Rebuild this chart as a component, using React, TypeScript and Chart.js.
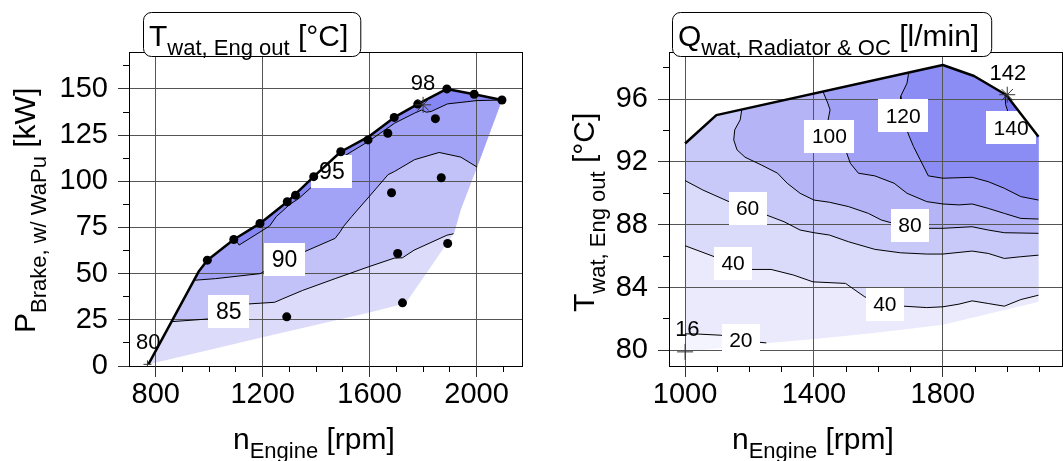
import React, { useEffect, useRef } from 'react';
import { Chart, registerables } from 'chart.js';

Chart.register(...registerables);

type Pt = [number, number];

const FONT = '"Liberation Sans", Arial, Helvetica, sans-serif';
const GRID = '#555555';
const CLEAR = 'rgba(0,0,0,0)';

// ================= Left panel: T_wat, Eng out [°C] =================
const L_X_RANGE = [700, 2170];
const L_Y_RANGE = [0, 170];
const L_X_TICKS = [800, 1200, 1600, 2000];
const L_Y_TICKS = [0, 25, 50, 75, 100, 125, 150];

// full-load curve (upper edge of measured map)
const L_TOP: Pt[] = [[773, 1], [960, 51], [993, 57.3], [1092, 68.5], [1190, 77.2], [1292, 88.9], [1391, 102.5], [1492, 116], [1600, 124.5], [1692, 134.6], [1780, 141.8], [1889, 150], [1991, 147.1], [2095, 144]];
const L_RIGHT: Pt[] = [[2095, 144], [2002, 107.7], [1941, 84.7], [1916, 72], [1735, 34]];
const L_BOTTOM: Pt[] = [[1735, 34], [1600, 29], [1200, 15.5], [790, 1.5], [773, 1]];

const L_C85: Pt[] = [[859, 24], [1000, 25.5], [1147, 33.6], [1245, 34.5], [1275, 36.4], [1349, 40.9], [1471, 47.3], [1594, 53.6], [1692, 58.4], [1723, 58.6], [1766, 62.7], [1889, 70.8], [1914, 71.6]];
const L_C90: Pt[] = [[943, 46.4], [1024, 47.3], [1190, 50], [1355, 61.8], [1471, 69.1], [1490, 72.7], [1502, 75.5], [1533, 80.9], [1600, 92], [1669, 103.6], [1694, 105.4], [1768, 111.7], [1860, 115.6], [1941, 113.1], [2002, 107.7]];
const L_C95: Pt[] = [[1096, 68.8], [1112, 65.5], [1226, 75.8], [1251, 80.9], [1300, 87.3], [1337, 90.9], [1386, 97.3], [1492, 112.5], [1600, 122], [1694, 131.5], [1768, 136.9], [1795, 138.6], [1812, 137.4], [1830, 137.8], [1891, 141.9], [2002, 143.7], [2095, 144]];

const L_POINTS: Pt[] = [[993, 57.3], [1092, 68.5], [1190, 77.2], [1292, 88.9], [1323, 92.5], [1391, 102.5], [1492, 116], [1594, 122.4], [1668, 126], [1692, 134.6], [1780, 141.8], [1846, 133.9], [1889, 150], [1991, 147.1], [2095, 144], [1868, 101.9], [1682, 93.8], [1705, 60.9], [1892, 66.3], [1723, 34.2], [1290, 26.6]];
const L_MAX: Pt[] = [[1800, 141.4]];
const L_MIN: Pt[] = [[769, 0.9]];

const L_LABEL_TEXT = ['85', '90', '95', '80', '98'];
const L_LABEL_AT: Pt[] = [[1073, 29.5], [1282, 57.8], [1459, 105.3], [772, 13.2], [1800, 153.2]];
const L_LABEL_BOXED = [true, true, true, false, false];

const L_COLORS = ['#dcdcfa', '#c2c2f8', '#a2a2f6', '#8686f4'];

// ================= Right panel: Q_wat, Radiator & OC [l/min] =================
const R_X_RANGE = [950, 2170];
const R_Y_RANGE = [79, 99];
const R_X_TICKS = [1000, 1400, 1800];
const R_Y_TICKS = [80, 84, 88, 92, 96];

const R_TOP: Pt[] = [[1000, 93.17], [1097, 94.98], [1800, 98.17], [1897, 97.47], [1997, 96.26], [2097, 93.6]];
const R_RIGHT: Pt[] = [[2097, 93.6], [2097, 83.1]];
const R_BOTTOM: Pt[] = [[2097, 83.1], [1800, 81.62], [1590, 81.12], [1400, 80.72], [1250, 80.45], [1000, 79.9]];

const R_C20: Pt[] = [[1000, 81.05], [1035, 81.04], [1111, 80.96], [1232, 80.51], [1252, 80.47]];
const R_C40: Pt[] = [[1000, 86.66], [1091, 85.96], [1150, 85.5], [1206, 85.15], [1267, 85.15], [1337, 84.79], [1397, 84.36], [1498, 84.26], [1558, 83.4], [1620, 83.0], [1679, 82.81], [1750, 82.72], [1800, 82.77], [1850, 82.94], [1891, 83.15], [1941, 82.98], [1991, 82.81], [2042, 83.23], [2097, 83.51]];
const R_C60: Pt[] = [[1000, 90.81], [1055, 90.21], [1136, 89.47], [1194, 89.0], [1252, 88.62], [1307, 88.19], [1357, 87.66], [1400, 87.49], [1448, 87.34], [1508, 86.91], [1589, 86.43], [1669, 86.21], [1750, 86.13], [1800, 86.13], [1891, 86.32], [1941, 86.17], [1991, 85.85], [2042, 85.96], [2097, 86.06]];
const R_C80: Pt[] = [[1176, 95.34], [1171, 94.68], [1154, 94.04], [1151, 93.4], [1161, 92.77], [1186, 92.3], [1236, 91.81], [1287, 91.28], [1317, 90.64], [1357, 90.0], [1400, 89.57], [1448, 89.43], [1508, 89.15], [1569, 88.72], [1609, 88.3], [1639, 88.13], [1700, 87.95], [1756, 87.77], [1800, 87.77], [1891, 87.87], [1941, 87.66], [1991, 87.49], [2097, 87.45]];
const R_C100: Pt[] = [[1428, 96.48], [1443, 95.74], [1450, 95.32], [1443, 94.57], [1450, 94.0], [1470, 93.4], [1498, 92.77], [1513, 91.91], [1538, 91.28], [1589, 91.11], [1649, 90.64], [1689, 90.0], [1750, 89.47], [1800, 89.32], [1850, 89.26], [1891, 89.32], [1941, 89.04], [1991, 88.72], [2042, 88.4], [2097, 88.36]];
const R_C120: Pt[] = [[1694, 97.69], [1689, 97.02], [1669, 96.17], [1670, 95.5], [1680, 94.5], [1694, 93.72], [1709, 92.98], [1730, 92.13], [1755, 91.11], [1800, 90.96], [1891, 91.02], [1941, 90.74], [1991, 90.32], [2042, 89.79], [2097, 89.57]];
const R_C140: Pt[] = [[1993, 96.3], [1995, 95.65], [2002, 95.2], [2040, 95.12]];

const R_MAX: Pt[] = [[2000, 96.28]];
const R_MIN: Pt[] = [[1000, 79.9]];

const R_LABEL_TEXT = ['20', '40', '60', '40', '80', '100', '120', '140', '16', '142'];
const R_LABEL_AT: Pt[] = [[1173, 80.65], [1149, 85.52], [1194, 89.03], [1620, 82.93], [1698, 87.97], [1448, 93.61], [1677, 94.94], [2012, 94.16], [1007, 81.35], [2002, 97.65]];
const R_LABEL_BOXED = [true, true, true, true, true, true, true, true, false, false];

const R_COLORS = ['#f4f4fe', '#eaeafc', '#dadafa', '#c8c8f9', '#b4b4f7', '#a0a0f6', '#8c8cf5', '#7676f3'];

// ================= helpers =================
const xy = (pts: Pt[]) => pts.map(([x, y]) => ({ x, y }));
const rev = (pts: Pt[]) => pts.slice().reverse();

function upperLeft(c: Pt[]): Pt[] {
  const sx = c[0][0];
  const ey = c[c.length - 1][1];
  return [
    ...c,
    ...rev(L_RIGHT).slice(0, -1).filter((p) => p[1] > ey),
    ...rev(L_TOP).filter((p) => p[0] > sx),
  ];
}

function upperRight(c: Pt[], endsOnBottom = false): Pt[] {
  const sx = c[0][0];
  const ex = c[c.length - 1][0];
  if (endsOnBottom) {
    return [...c, ...rev(R_BOTTOM).filter((p) => p[0] > ex), ...rev(R_TOP).filter((p) => p[0] >= sx)];
  }
  return [...c, ...rev(R_TOP).filter((p) => p[0] >= sx && p[0] <= ex)];
}

const fillSet = (pts: Pt[], color: string, order: number) => ({
  type: 'line', role: 'fill', data: xy(pts), fill: 'shape', backgroundColor: color,
  borderColor: CLEAR, borderWidth: 0, pointRadius: 0, pointHoverRadius: 0, tension: 0, order,
});
const lineSet = (pts: Pt[], width: number, role: string, order: number) => ({
  type: 'line', role, data: xy(pts), fill: false, borderColor: '#000', borderWidth: width,
  pointRadius: 0, pointHoverRadius: 0, tension: 0, order, borderJoinStyle: 'round', borderCapStyle: 'butt',
});
const markSet = (pts: Pt[], style: string, radius: number, color: string, order: number) => ({
  type: 'line', role: 'marks', data: xy(pts), showLine: false, pointStyle: style, pointRadius: radius,
  pointHoverRadius: radius, pointBackgroundColor: style === 'circle' ? color : CLEAR,
  pointBorderColor: color, pointBorderWidth: style === 'circle' ? 0 : 1, order,
});

type Part = [string, boolean];

function drawRich(ctx: CanvasRenderingContext2D, parts: Part[], x: number, y: number, subDy: number, draw = true) {
  let cx = x;
  for (const [text, sub] of parts) {
    ctx.font = `${sub ? 22 : 30}px ${FONT}`;
    if (draw) ctx.fillText(text, cx, y + (sub ? subDy : 0));
    cx += ctx.measureText(text).width;
  }
  return cx - x;
}

function roundRectPath(ctx: CanvasRenderingContext2D, x: number, y: number, w: number, h: number, r: number) {
  ctx.beginPath();
  ctx.moveTo(x + r, y);
  ctx.lineTo(x + w - r, y);
  ctx.arcTo(x + w, y, x + w, y + r, r);
  ctx.lineTo(x + w, y + h - r);
  ctx.arcTo(x + w, y + h, x + w - r, y + h, r);
  ctx.lineTo(x + r, y + h);
  ctx.arcTo(x, y + h, x, y + h - r, r);
  ctx.lineTo(x, y + r);
  ctx.arcTo(x, y, x + r, y, r);
  ctx.closePath();
}

interface Overlay {
  ox: number;
  labelText: string[];
  labelAt: Pt[];
  labelBoxed: boolean[];
  labelFont: number;
  xMajor: (v: number) => boolean;
  yMajor: (v: number) => boolean;
  title: Part[];
  titleX: number;
  yTitle: Part[];
  yTitleX: number;
  yTitleY: number;
  xTitleX: number;
}

function makeOverlay(o: Overlay) {
  let gridDone = false;
  let labelsDone = false;
  const redrawGrid = (chart: any) => {
    chart.scales.x.drawGrid(chart.chartArea);
    chart.scales.y.drawGrid(chart.chartArea);
  };
  const drawLabels = (chart: any) => {
    const ctx: CanvasRenderingContext2D = chart.ctx;
    const xs = chart.scales.x;
    const ys = chart.scales.y;
    ctx.save();
    ctx.textAlign = 'center';
    ctx.textBaseline = 'middle';
    o.labelText.forEach((t, i) => {
      const px = xs.getPixelForValue(o.labelAt[i][0]);
      const py = ys.getPixelForValue(o.labelAt[i][1]);
      ctx.font = `${o.labelBoxed[i] ? o.labelFont : 22}px ${FONT}`;
      if (o.labelBoxed[i]) {
        const w = Math.round(ctx.measureText(t).width + 15);
        const h = 33;
        ctx.fillStyle = '#fff';
        ctx.fillRect(Math.round(px - w / 2), Math.round(py - h / 2), w, h);
      }
      ctx.fillStyle = '#000';
      ctx.fillText(t, px, py + 1);
    });
    ctx.restore();
  };
  return {
    id: 'contourOverlay',
    beforeDatasetsDraw() {
      gridDone = false;
      labelsDone = false;
    },
    beforeDatasetDraw(chart: any, args: any) {
      const role = chart.data.datasets[args.index].role;
      if (!gridDone && role !== 'fill') {
        redrawGrid(chart);
        gridDone = true;
      }
      if (!labelsDone && (role === 'edge' || role === 'marks')) {
        drawLabels(chart);
        labelsDone = true;
      }
    },
    afterDatasetsDraw(chart: any) {
      if (!gridDone) redrawGrid(chart);
      if (!labelsDone) drawLabels(chart);
    },
    afterDraw(chart: any) {
      const ctx: CanvasRenderingContext2D = chart.ctx;
      const { left, top, right, bottom } = chart.chartArea;
      const xs = chart.scales.x;
      const ys = chart.scales.y;
      const al = (p: number) => Math.round(p - 0.5) + 0.5;
      ctx.save();
      // frame
      ctx.strokeStyle = '#000';
      ctx.lineWidth = 1;
      ctx.strokeRect(al(left), al(top), Math.round(right - left), Math.round(bottom - top));
      // long major ticks
      ctx.strokeStyle = '#333';
      ctx.beginPath();
      for (const t of xs.ticks) {
        if (!o.xMajor(t.value)) continue;
        const p = al(xs.getPixelForValue(t.value));
        ctx.moveTo(p, bottom);
        ctx.lineTo(p, bottom + 11);
      }
      for (const t of ys.ticks) {
        if (!o.yMajor(t.value)) continue;
        const p = al(ys.getPixelForValue(t.value));
        ctx.moveTo(left - 11, p);
        ctx.lineTo(left, p);
      }
      ctx.stroke();

      ctx.fillStyle = '#000';
      ctx.textAlign = 'left';
      ctx.textBaseline = 'alphabetic';
      // title box
      const tx = o.titleX - o.ox;
      const tw = drawRich(ctx, o.title, tx, 46, 9, false);
      roundRectPath(ctx, tx - 5.5, 12.5, tw + 18, 44, 8);
      ctx.fillStyle = '#fff';
      ctx.fill();
      ctx.strokeStyle = '#000';
      ctx.stroke();
      ctx.fillStyle = '#000';
      drawRich(ctx, o.title, tx, 46, 9);
      // x title
      drawRich(ctx, [['n', false], ['Engine', true], [' [rpm]', false]], o.xTitleX - o.ox, 449, 9);
      // y title
      ctx.translate(o.yTitleX - o.ox, o.yTitleY);
      ctx.rotate(-Math.PI / 2);
      drawRich(ctx, o.yTitle, 0, 0, 11);
      ctx.restore();
    },
  };
}

function axis(range: number[], step: number, major: (v: number) => boolean, shown: (v: number) => boolean, horizontal: boolean, size: number) {
  return {
    type: 'linear',
    min: range[0],
    max: range[1],
    ticks: {
      stepSize: step, autoSkip: false, maxRotation: 0, minRotation: 0, includeBounds: false,
      padding: horizontal ? 6 : 15, color: '#000', font: { family: FONT, size: 29 },
      callback: (v: number) => (major(v) ? String(v) : ''),
    },
    grid: {
      lineWidth: 1, tickLength: 6, drawTicks: true,
      color: (c: any) => (c.tick && major(c.tick.value) ? GRID : CLEAR),
      tickColor: (c: any) => (c.tick && shown(c.tick.value) ? '#000' : CLEAR),
    },
    border: { display: false },
    afterFit: (s: any) => {
      if (horizontal) s.height = size;
      else s.width = size;
    },
  };
}

function buildLeft() {
  const xMajor = (v: number) => L_X_TICKS.includes(v);
  const yMajor = (v: number) => L_Y_TICKS.includes(v);
  const datasets: any[] = [
    fillSet([...L_TOP, ...L_RIGHT.slice(1), ...L_BOTTOM.slice(1)], L_COLORS[0], 100),
    fillSet(upperLeft(L_C85), L_COLORS[1], 99),
    fillSet(upperLeft(L_C90), L_COLORS[2], 98),
    fillSet(upperLeft(L_C95), L_COLORS[3], 97),
    lineSet(L_C85, 1, 'contour', 20),
    lineSet(L_C90, 1, 'contour', 20),
    lineSet(L_C95, 1, 'contour', 20),
    lineSet(L_TOP, 2.5, 'edge', 10),
    markSet(L_POINTS, 'circle', 4.5, '#000', 5),
    markSet(L_MAX, 'star', 8, '#333', 1),
    markSet(L_MIN, 'cross', 4, '#333', 1),
  ];
  return {
    type: 'line',
    data: { datasets },
    options: {
      animation: false, responsive: false, events: [],
      layout: { padding: { left: 0, top: 52, right: 9, bottom: 0 } },
      plugins: { legend: { display: false }, tooltip: { enabled: false } },
      scales: {
        x: axis(L_X_RANGE, 100, xMajor, (v) => v >= 800 && v <= 2100, true, 95),
        y: axis(L_Y_RANGE, 12.5, yMajor, () => true, false, 129),
      },
    },
    plugins: [makeOverlay({
      ox: 0, labelText: L_LABEL_TEXT, labelAt: L_LABEL_AT, labelBoxed: L_LABEL_BOXED, labelFont: 23,
      xMajor, yMajor,
      title: [['T', false], ['wat, Eng out', true], [' [°C]', false]], titleX: 149,
      yTitle: [['P', false], ['Brake, w/ WaPu', true], [' [kW]', false]], yTitleX: 35, yTitleY: 333,
      xTitleX: 233,
    })],
  };
}

function buildRight() {
  const xMajor = (v: number) => R_X_TICKS.includes(v);
  const yMajor = (v: number) => R_Y_TICKS.includes(v);
  const contours = [R_C20, R_C40, R_C60, R_C80, R_C100, R_C120, R_C140];
  const datasets: any[] = [
    fillSet([...R_TOP, ...R_RIGHT.slice(1), ...R_BOTTOM.slice(1)], R_COLORS[0], 100),
    fillSet(upperRight(R_C20, true), R_COLORS[1], 99),
    fillSet(upperRight(R_C40), R_COLORS[2], 98),
    fillSet(upperRight(R_C60), R_COLORS[3], 97),
    fillSet(upperRight(R_C80), R_COLORS[4], 96),
    fillSet(upperRight(R_C100), R_COLORS[5], 95),
    fillSet(upperRight(R_C120), R_COLORS[6], 94),
    fillSet(upperRight(R_C140), R_COLORS[7], 93),
    ...contours.map((c) => lineSet(c, 1, 'contour', 20)),
    lineSet(R_TOP, 2.5, 'edge', 10),
    markSet(R_MAX, 'star', 8, '#333', 1),
    markSet(R_MIN, 'cross', 8, '#333', 1),
  ];
  // plot area: page x 669 .. 669 + 1220 * 0.325 = 1065.5 -> canvas 138 .. 534.5 (canvas width 540)
  return {
    type: 'line',
    data: { datasets },
    options: {
      animation: false, responsive: false, events: [],
      layout: { padding: { left: 0, top: 52, right: 5.5, bottom: 0 } },
      plugins: { legend: { display: false }, tooltip: { enabled: false } },
      scales: {
        x: axis(R_X_RANGE, 100, xMajor, (v) => v >= 1000, true, 95),
        y: axis(R_Y_RANGE, 1, yMajor, (v) => v % 2 === 0, false, 138),
      },
    },
    plugins: [makeOverlay({
      ox: 531, labelText: R_LABEL_TEXT, labelAt: R_LABEL_AT, labelBoxed: R_LABEL_BOXED, labelFont: 21,
      xMajor, yMajor,
      title: [['Q', false], ['wat, Radiator & OC', true], [' [l/min]', false]], titleX: 678,
      yTitle: [['T', false], ['wat, Eng out', true], [' [°C]', false]], yTitleX: 594, yTitleY: 312,
      xTitleX: 732,
    })],
  };
}

function ChartCanvas({ build, left, width }: { build: () => any; left: number; width: number }) {
  const ref = useRef<HTMLCanvasElement>(null);
  useEffect(() => {
    const chart = new Chart(ref.current as HTMLCanvasElement, build());
    return () => chart.destroy();
  }, [build]);
  return (
    <canvas
      ref={ref}
      width={width}
      height={461}
      style={{ position: 'absolute', left, top: 0, width, height: 461, display: 'block' }}
    />
  );
}

export default function App() {
  return (
    <div style={{ position: 'fixed', left: 0, top: 0, width: 1063, height: 461, overflow: 'hidden', background: '#fff' }}>
      <ChartCanvas build={buildLeft} left={0} width={531} />
      <ChartCanvas build={buildRight} left={531} width={540} />
    </div>
  );
}
